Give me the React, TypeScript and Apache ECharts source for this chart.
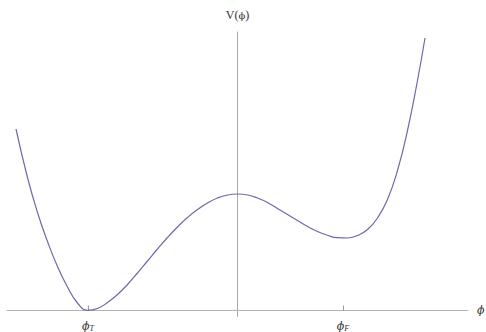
import React, { useEffect, useRef } from "react";
import * as echarts from "echarts";

// Curve samples (phi, V) in arbitrary units
const phiValues = [
  -2.215, -2.1, -2.0, -1.9, -1.8, -1.7, -1.6, -1.5, -1.4, -1.3, -1.2, -1.1, -1.0,
  -0.9, -0.8, -0.7, -0.6, -0.5, -0.4, -0.3, -0.2, -0.1, 0, 0.1, 0.2, 0.3, 0.4,
  0.5, 0.6, 0.7, 0.8, 0.9, 1.0, 1.1, 1.2, 1.3, 1.4, 1.5, 1.6, 1.7, 1.8, 1.875,
];
const potentialValues = [
  1.815, 1.33, 0.98, 0.69, 0.44, 0.235, 0.075, 0.002, 0.02, 0.08, 0.16, 0.26, 0.375,
  0.495, 0.615, 0.73, 0.835, 0.93, 1.01, 1.075, 1.125, 1.155, 1.165, 1.155, 1.125, 1.08, 1.02,
  0.96, 0.9, 0.84, 0.79, 0.752, 0.728, 0.725, 0.75, 0.81, 0.925, 1.11, 1.4, 1.8, 2.3, 2.725,
];
const markedPhi = [-1.495, 1.055];
const markedSubscripts = ["T", "F"];
const xName = "ϕ";
const yNamePre = "V(";
const yNameSym = "ϕ";
const yNamePost = ")";

export default function App() {
  const ref = useRef<HTMLDivElement>(null);
  useEffect(() => {
    document.body.style.margin = "0";
    if (!ref.current) return;
    const chart = echarts.init(ref.current, undefined, { renderer: "svg" });
    const serif = "Liberation Serif, Times New Roman, serif";
    const sym = "DejaVu Serif, serif";
    chart.setOption({
      animation: false,
      backgroundColor: "#ffffff",
      grid: { left: 7, right: 18, top: 32, bottom: 15.5, outerBoundsMode: "none", containLabel: false },
      xAxis: {
        type: "value",
        min: -2.305,
        max: 2.305,
        splitLine: { show: false },
        axisLine: { onZero: true, lineStyle: { color: "#b4b4b4", width: 1 } },
        axisTick: {
          show: true,
          inside: true,
          length: 5,
          customValues: markedPhi,
          lineStyle: { color: "#9a9a9a" },
        },
        axisLabel: {
          show: true,
          customValues: markedPhi,
          margin: 3,
          formatter: (v: number) => {
            const idx = markedPhi.findIndex((p) => Math.abs(p - v) < 1e-6);
            return "{i|" + xName + "}{s|" + (markedSubscripts[idx] ?? "") + "}";
          },
          rich: {
            i: { fontFamily: sym, fontStyle: "italic", fontSize: 11, color: "#333", lineHeight: 13 },
            s: {
              fontFamily: serif,
              fontStyle: "italic",
              fontSize: 8,
              color: "#333",
              lineHeight: 13,
              padding: [4, 0, 0, 0],
            },
          },
        },
        name: "{i|" + xName + "}",
        nameLocation: "end",
        nameGap: 9,
        nameTextStyle: {
          rich: { i: { fontFamily: sym, fontStyle: "italic", fontSize: 11, color: "#333" } },
        },
      },
      yAxis: {
        type: "value",
        min: -0.06,
        max: 2.785,
        splitLine: { show: false },
        axisLine: { show: true, onZero: true, lineStyle: { color: "#a8a8a8", width: 1 } },
        axisTick: { show: false },
        axisLabel: { show: false },
        name: "{a|" + yNamePre + "}{b|" + yNameSym + "}{a|" + yNamePost + "}",
        nameLocation: "end",
        nameGap: 11,
        nameTextStyle: {
          rich: {
            a: { fontFamily: serif, fontSize: 12, color: "#333" },
            b: { fontFamily: sym, fontSize: 10, color: "#333" },
          },
        },
      },
      series: [
        {
          type: "line",
          data: phiValues.map((p, i) => [p, potentialValues[i]]),
          smooth: 0.5,
          showSymbol: false,
          lineStyle: { color: "#6a6aae", width: 1.2 },
        },
      ],
    });
    return () => chart.dispose();
  }, []);
  return <div ref={ref} style={{ width: 486, height: 332 }} />;
}
